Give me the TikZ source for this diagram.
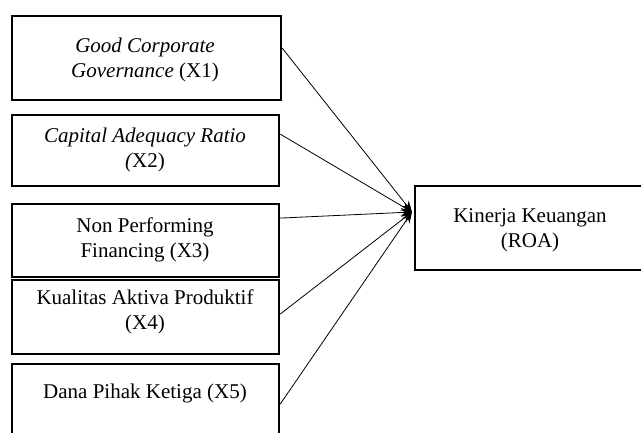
\documentclass[tikz,border=0pt]{standalone}
\usepackage{fontspec}
\setmainfont{Liberation Serif}
\usetikzlibrary{arrows.meta}
\begin{document}
\begin{tikzpicture}[x=1pt,y=1pt,
  box/.style={draw, line width=2.2pt, inner sep=0pt, anchor=north west},
  lbl/.style={align=center, font=\fontsize{21}{25}\selectfont, inner sep=0pt, anchor=base},
  conn/.style={line width=0.8pt, -{Stealth[length=11pt,width=9pt]}}]
\useasboundingbox (0,0) rectangle (641,-433);
\begin{scope}
\clip (0,0) rectangle (641,-433);
\node[box, minimum width=269pt, minimum height=84pt] (b1) at (11,-15) {};
\node[box, minimum width=267pt, minimum height=71pt] (b2) at (11,-114) {};
\node[box, minimum width=267pt, minimum height=73pt] (b3) at (11,-203) {};
\node[box, minimum width=267pt, minimum height=74pt] (b4) at (11,-279) {};
\node[box, minimum width=267pt, minimum height=90pt] (b5) at (11,-363) {};
\node[box, minimum width=240pt, minimum height=84pt] (r) at (414,-185) {};
\end{scope}
\node[lbl] (t1) at (145,-78) {\itshape Good Corporate\\ {\itshape Governance} \upshape(X1)};
\node[lbl] (t2) at (145,-168) {\itshape Capital Adequacy Ratio\\ {\itshape(}X2)};
\node[lbl] (t3) at (145,-258) {Non Performing\\ Financing (X3)};
\node[lbl] (t4) at (145,-330) {Kualitas Aktiva Produktif\\ (X4)};
\node[lbl] (t5) at (145,-399) {Dana Pihak Ketiga (X5)};
\node[lbl] (tr) at (530,-248) {Kinerja Keuangan\\ (ROA)};
\coordinate (c) at (412,-212);
\coordinate (s1) at ([yshift=10pt]b1.east);
\coordinate (s2) at ([yshift=16.5pt]b2.east);
\coordinate (s3) at ([yshift=22.5pt]b3.east);
\coordinate (s4) at ([yshift=3pt]b4.east);
\coordinate (s5) at ([yshift=5pt]b5.east);
\foreach \s in {s1,s2,s3,s4,s5}
  \draw[conn] (\s) -- (c);
\end{tikzpicture}
\end{document}
